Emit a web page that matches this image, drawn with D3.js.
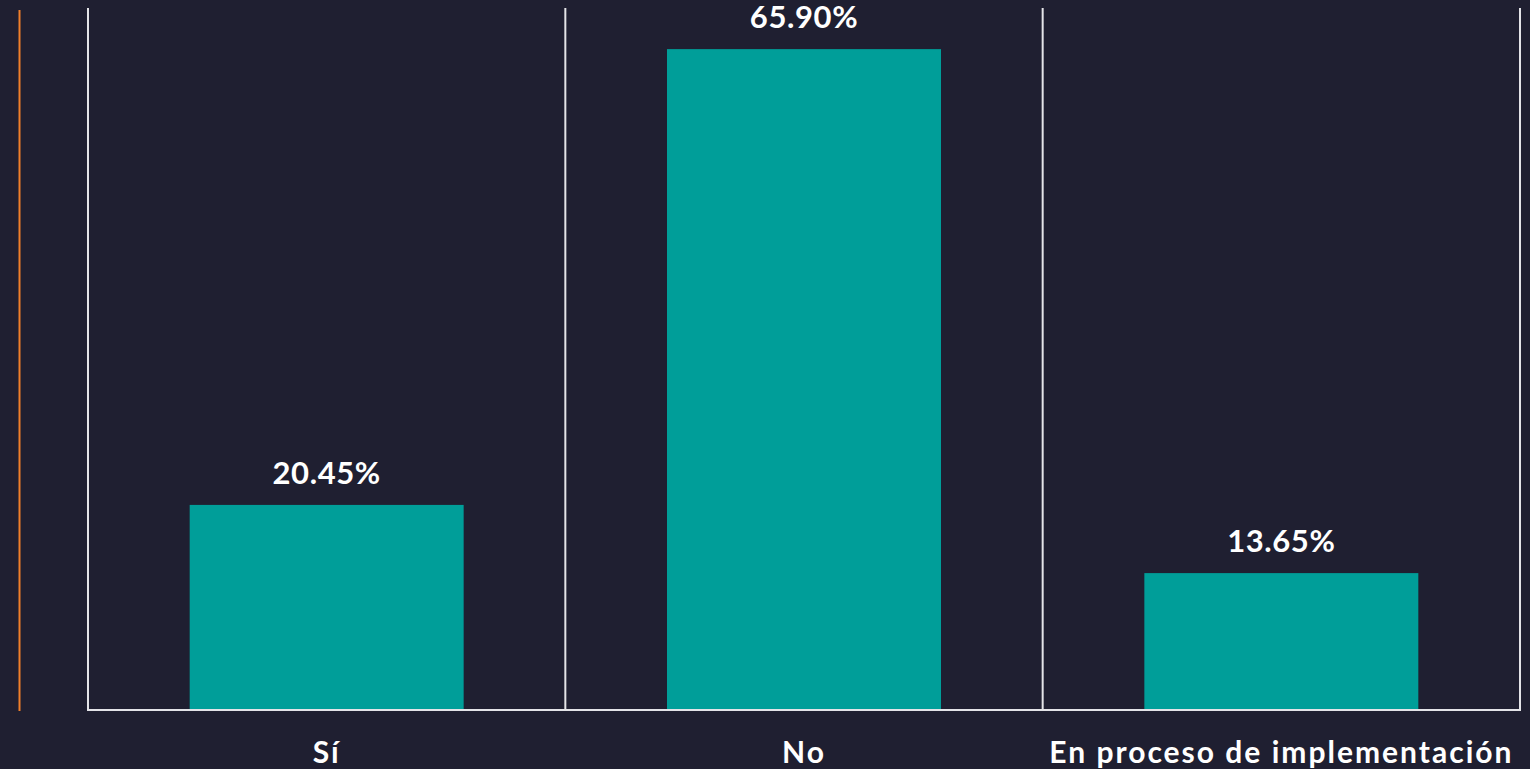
<!DOCTYPE html>
<html>
<head>
<meta charset="utf-8">
<script src="https://cdn.jsdelivr.net/npm/d3@7"></script>
<style>
  html, body { margin: 0; padding: 0; background: #1f1f31; overflow: hidden; }
  svg { display: block; }
</style>
</head>
<body>
<script>
'use strict';

var categories = ['Sí', 'No', 'En proceso de implementación'];
var values = [20.45, 65.90, 13.65];
var valueLabels = ['20.45%', '65.90%', '13.65%'];

function drawChart() {
  var width = 1530;
  var height = 769;
  var plotLeft = 88, plotRight = 1520, plotTop = 8, plotBottom = 710;

  var svg = d3.select('body').append('svg')
    .attr('width', width)
    .attr('height', height);

  svg.append('rect')
    .attr('width', width)
    .attr('height', height)
    .attr('fill', '#1f1f31');

  var x = d3.scaleBand()
    .domain(categories)
    .range([plotLeft, plotRight])
    .paddingInner(0.426)
    .paddingOuter(0.213);

  var band = d3.scaleBand().domain(categories).range([plotLeft, plotRight]);

  var y = d3.scaleLinear().domain([0, 70]).range([plotBottom, plotTop]);

  // orange accent line
  svg.append('line')
    .attr('x1', 19.5).attr('x2', 19.5)
    .attr('y1', 10).attr('y2', plotBottom + 1)
    .attr('stroke', '#f07f2a')
    .attr('stroke-width', 2);

  // category separators
  var edges = categories.map(function(c) { return band(c); }).concat([plotRight]);
  svg.selectAll('line.sep')
    .data(edges)
    .enter().append('line')
    .attr('class', 'sep')
    .attr('x1', function(d) { return d; })
    .attr('x2', function(d) { return d; })
    .attr('y1', plotTop)
    .attr('y2', plotBottom)
    .attr('stroke', '#e4e4e8')
    .attr('stroke-width', 2);

  svg.selectAll('rect.bar')
    .data(values)
    .enter().append('rect')
    .attr('class', 'bar')
    .attr('x', function(d, i) { return x(categories[i]); })
    .attr('width', x.bandwidth())
    .attr('y', function(d) { return y(d); })
    .attr('height', function(d) { return y(0) - y(d); })
    .attr('fill', '#009e99');

  // baseline
  svg.append('line')
    .attr('x1', plotLeft - 1).attr('x2', plotRight + 1)
    .attr('y1', plotBottom).attr('y2', plotBottom)
    .attr('stroke', '#e4e4e8')
    .attr('stroke-width', 2);

  svg.selectAll('text.val')
    .data(values)
    .enter().append('text')
    .attr('class', 'val')
    .attr('x', function(d, i) { return x(categories[i]) + x.bandwidth() / 2; })
    .attr('y', function(d) { return y(d) - 21; })
    .attr('text-anchor', 'middle')
    .attr('fill', '#ffffff')
    .style('font-family', 'Lato, "Open Sans", sans-serif')
    .style('font-weight', 'bold')
    .style('font-size', '31px')
    .style('letter-spacing', '0.6px')
    .text(function(d, i) { return valueLabels[i]; });

  svg.selectAll('text.cat')
    .data(categories)
    .enter().append('text')
    .attr('class', 'cat')
    .attr('x', function(d) { return x(d) + x.bandwidth() / 2; })
    .attr('y', 763)
    .attr('text-anchor', 'middle')
    .attr('fill', '#ffffff')
    .style('font-family', 'Lato, "Open Sans", sans-serif')
    .style('font-weight', 'bold')
    .style('font-size', '30px')
    .style('letter-spacing', '2px')
    .text(function(d) { return d; });
}

drawChart();
</script>
</body>
</html>
